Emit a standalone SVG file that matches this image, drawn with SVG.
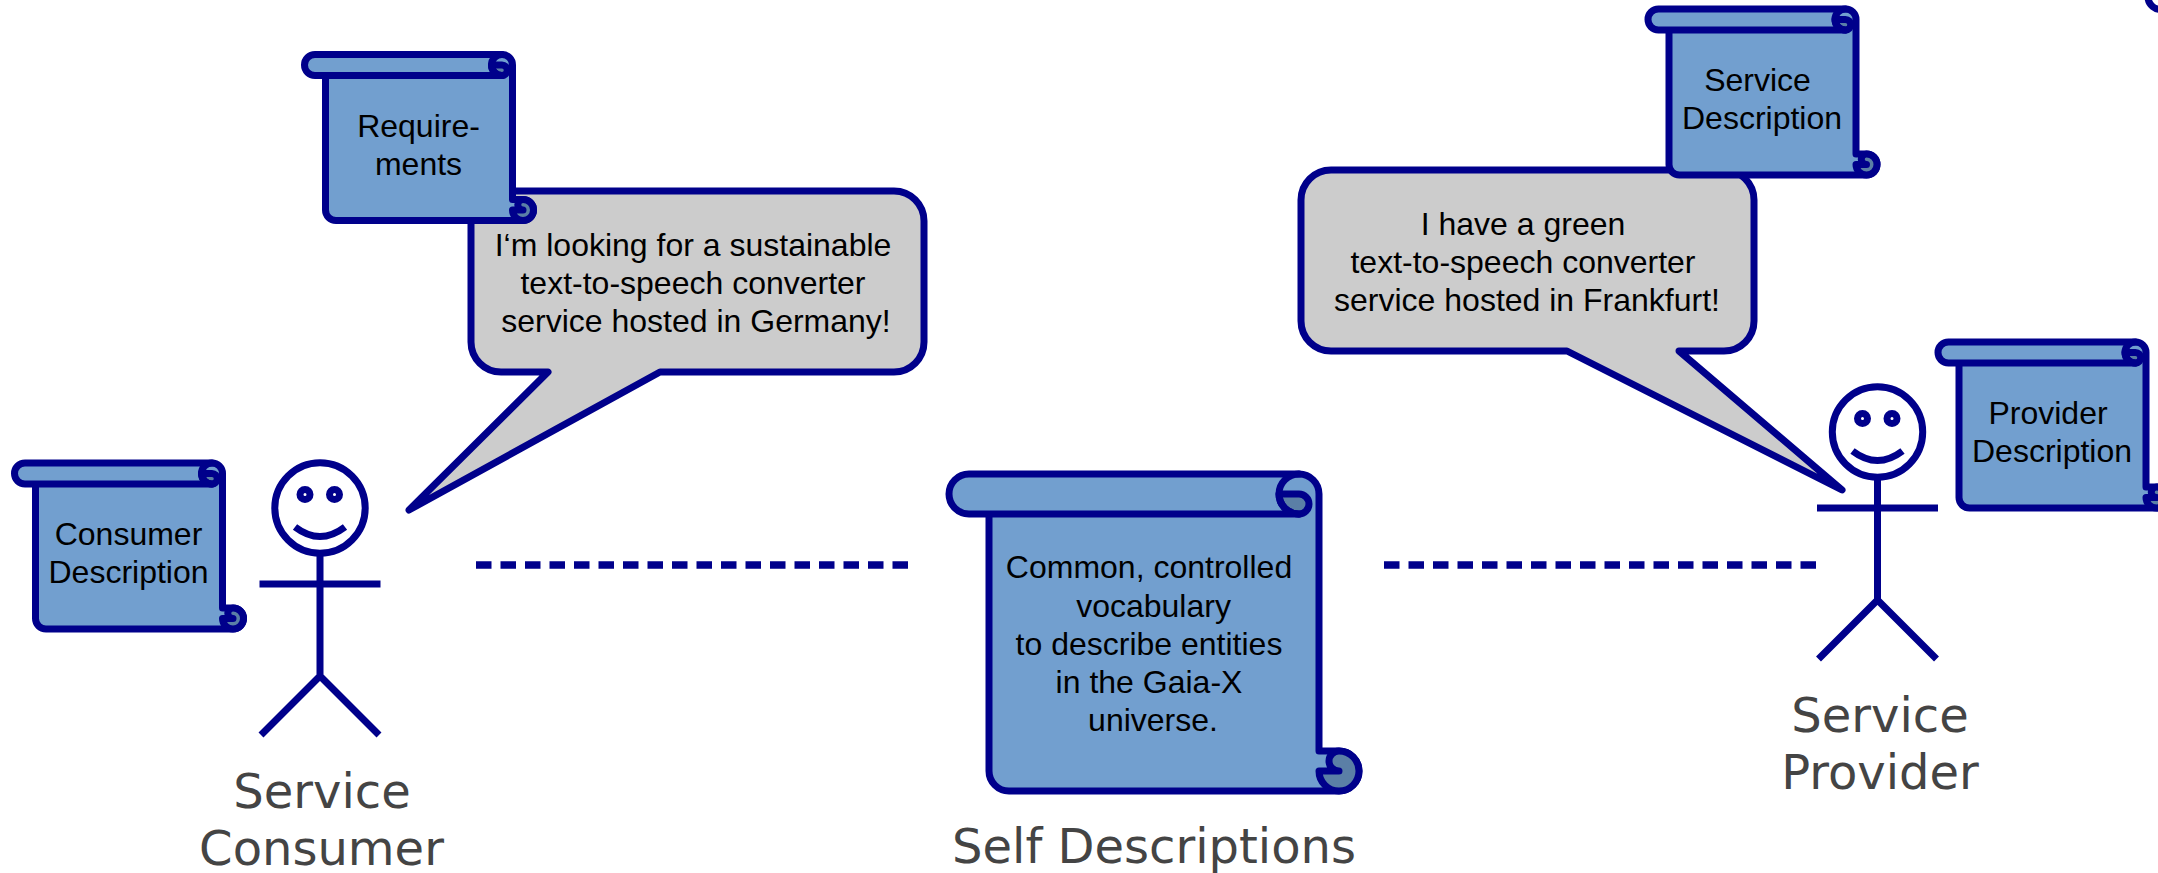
<svg xmlns="http://www.w3.org/2000/svg" width="2158" height="873" viewBox="0 0 2158 873">
<style>
.o{stroke:#00008b;stroke-width:7;stroke-linejoin:round;stroke-linecap:round}
.body{fill:#729fcf}
.dark{fill:#5b7fa6}
.none{fill:none}
.bubble{fill:#cccccc}
.stick{fill:none;stroke:#00008b;stroke-width:7}
.eye{fill:#fff;stroke:#00008b;stroke-width:7}
.dash{fill:none;stroke:#00008b;stroke-width:7.5;stroke-dasharray:15.5 9}
text{font-family:"Liberation Sans",Arial,sans-serif;font-size:32px;fill:#000;text-anchor:middle}
text.lab{font-family:"DejaVu Sans",sans-serif;font-size:48px;fill:#444}
</style>
<defs>
<g id="scroll">
<path class="o body" d="M21,21 L21,155.5 A10.5 10.5 0 0 0 31.5,166 L218.5,166 A10.5 10.5 0 0 0 218.5,145 L208,145 L208,10.5 A10.5 10.5 0 0 0 197.5,0 L10.5,0 A10.5 10.5 0 0 0 10.5,21 L197.5,21"/>
<path class="o dark" d="M197.5,10.5 A5.25 5.25 0 0 1 197.5,21 A10.5 10.5 0 0 1 187,10.5 Z"/>
<path class="o none" d="M197.5,21 A10.5 10.5 0 0 1 197.5,0"/>
<path class="o dark" d="M218.5,155.5 A5.25 5.25 0 0 1 218.5,145 A10.5 10.5 0 0 1 218.5,166 A10.5 10.5 0 0 1 208,155.5 Z"/>
</g>
<g id="person">
<circle class="stick" cx="320" cy="508" r="45.2"/>
<circle class="eye" cx="305" cy="494.5" r="5"/>
<circle class="eye" cx="334.5" cy="494.5" r="5"/>
<path class="stick" d="M295,527 Q320,546 345,527"/>
<path class="stick" d="M320,553 L320,675 M259.5,584 L380.5,584 M261,735 L320,676 L379,735"/>
</g>
</defs>
<g id="connectors">
<path class="dash" d="M476,565 L908.5,565"/>
<path class="dash" d="M1384,565 L1816,565"/>
</g>
<g id="self-descriptions">
<path class="o body" d="M989,514 L989,771 A20 20 0 0 0 1009,791 L1339,791 A20 20 0 0 0 1339,751 L1319,751 L1319,494 A20 20 0 0 0 1299,474 L969,474 A20 20 0 0 0 969,514 L1299,514"/>
<path class="o dark" d="M1299,494 A10 10 0 0 1 1299,514 A20 20 0 0 1 1279,494 Z"/>
<path class="o none" d="M1299,514 A20 20 0 0 1 1299,474"/>
<path class="o dark" d="M1339,771 A10 10 0 0 1 1339,751 A20 20 0 0 1 1339,791 A20 20 0 0 1 1319,771 Z"/>
<text x="1149" y="578">Common, controlled</text>
<text x="1153.5" y="616.5">vocabulary</text>
<text x="1149" y="655">to describe entities</text>
<text x="1149" y="693">in the Gaia-X</text>
<text x="1153" y="731">universe.</text>
<text class="lab" x="1154" y="863">Self Descriptions</text>
</g>
<g id="service-consumer">
<use href="#person"/>
<text class="lab" x="322" y="808">Service</text>
<text class="lab" x="321.5" y="865">Consumer</text>
</g>
<g id="consumer-description">
<use href="#scroll" x="14.5" y="463"/>
<text x="128.5" y="545">Consumer</text>
<text x="128.5" y="583">Description</text>
</g>
<g id="consumer-bubble">
<path class="o bubble" d="M501,191 L894,191 A30 30 0 0 1 924,221 L924,342 A30 30 0 0 1 894,372 L660,372 L409,510 L548,372 L501,372 A30 30 0 0 1 471,342 L471,221 A30 30 0 0 1 501,191 Z"/>
<text x="693" y="256">I‘m looking for a sustainable</text>
<text x="693" y="294">text-to-speech converter</text>
<text x="696" y="332">service hosted in Germany!</text>
</g>
<g id="requirements">
<use href="#scroll" x="304.5" y="54.5"/>
<text x="418.5" y="137">Require-</text>
<text x="418.5" y="175">ments</text>
</g>
<g id="service-provider">
<use href="#person" x="1557.5" y="-76"/>
<text class="lab" x="1880" y="732">Service</text>
<text class="lab" x="1880" y="789">Provider</text>
</g>
<g id="provider-description">
<use href="#scroll" x="1938" y="342"/>
<text x="2048" y="424">Provider</text>
<text x="2052" y="462">Description</text>
</g>
<g id="provider-bubble">
<path class="o bubble" d="M1331,170 L1724,170 A30 30 0 0 1 1754,200 L1754,321 A30 30 0 0 1 1724,351 L1679,351 L1842,490 L1567,351 L1331,351 A30 30 0 0 1 1301,321 L1301,200 A30 30 0 0 1 1331,170 Z"/>
<text x="1523" y="235">I have a green</text>
<text x="1523" y="273">text-to-speech converter</text>
<text x="1527" y="311">service hosted in Frankfurt!</text>
</g>
<g id="service-description">
<use href="#scroll" x="1648" y="9"/>
<text x="1757.5" y="91">Service</text>
<text x="1762" y="129">Description</text>
</g>
<path class="o none" d="M2148,-2 A13 13 0 0 0 2162,9.5"/>
</svg>
